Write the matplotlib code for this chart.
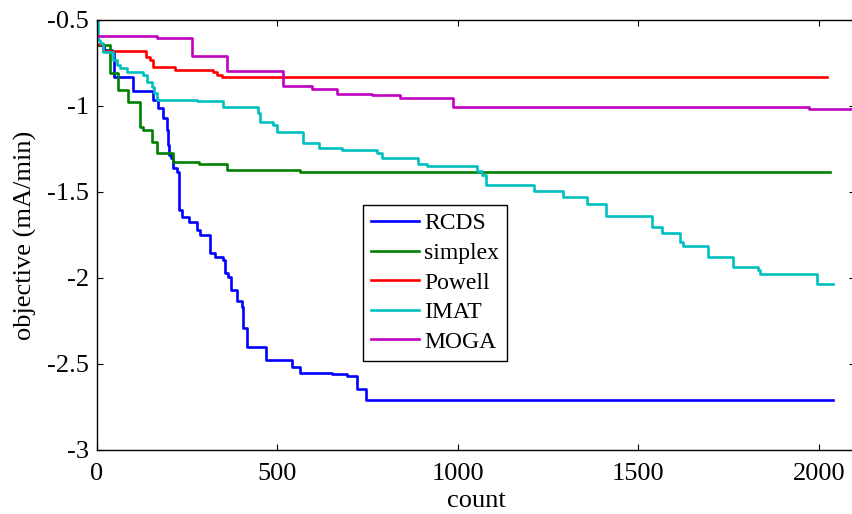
import matplotlib.pyplot as plt

# step data: count where the best objective changes, and its new value
rcds_x = [0, 19, 42, 47, 100, 155, 169, 183, 194, 197, 199, 205, 211, 222, 227, 235, 255, 277, 285,
          313, 327, 349, 355, 363, 371, 388, 402, 404, 416, 468, 540, 562, 651, 693, 720, 745, 2039]
rcds_y = [-0.645, -0.674, -0.686, -0.831, -0.913, -0.965, -1.012, -1.070, -1.140, -1.227, -1.285, -1.302,
          -1.360, -1.384, -1.605, -1.645, -1.674, -1.721, -1.750, -1.855, -1.878, -1.895, -1.971, -1.994,
          -2.070, -2.134, -2.169, -2.291, -2.401, -2.477, -2.517, -2.552, -2.558, -2.570, -2.645, -2.709, -2.709]

simplex_x = [0, 36, 58, 86, 119, 127, 152, 166, 211, 283, 360, 562, 2030]
simplex_y = [-0.645, -0.808, -0.907, -0.977, -1.122, -1.140, -1.209, -1.273, -1.326, -1.337, -1.372, -1.384, -1.384]

powell_x = [0, 17, 136, 147, 155, 216, 321, 332, 346, 2022]
powell_y = [-0.640, -0.680, -0.715, -0.733, -0.773, -0.791, -0.802, -0.820, -0.831, -0.831]

imat_x = [0, 3, 8, 17, 44, 55, 64, 83, 127, 139, 152, 158, 166, 277, 349, 446, 452, 488, 499, 571, 615,
          679, 776, 789, 889, 914, 1053, 1066, 1078, 1211, 1291, 1357, 1410, 1537, 1565, 1615, 1623, 1693,
          1762, 1831, 1837, 1994, 2039]
imat_y = [-0.5, -0.616, -0.634, -0.686, -0.733, -0.762, -0.779, -0.802, -0.820, -0.860, -0.890, -0.924,
          -0.965, -0.971, -1.006, -1.041, -1.093, -1.110, -1.151, -1.215, -1.244, -1.256, -1.273, -1.302,
          -1.337, -1.349, -1.378, -1.401, -1.459, -1.494, -1.529, -1.570, -1.640, -1.703, -1.738, -1.791,
          -1.814, -1.878, -1.936, -1.953, -1.977, -2.035, -2.035]

moga_x = [0, 166, 263, 360, 515, 596, 665, 762, 839, 986, 1972, 2120]
moga_y = [-0.593, -0.605, -0.709, -0.797, -0.884, -0.901, -0.930, -0.936, -0.953, -1.006, -1.017, -1.017]

series = [('RCDS', rcds_x, rcds_y, (0, 0, 1)),
          ('simplex', simplex_x, simplex_y, (0, 0.5, 0)),
          ('Powell', powell_x, powell_y, (1, 0, 0)),
          ('IMAT', imat_x, imat_y, (0, 0.75, 0.75)),
          ('MOGA', moga_x, moga_y, (0.75, 0, 0.75))]

xticks = [0, 500, 1000, 1500, 2000]
yticks = [-3, -2.5, -2, -1.5, -1, -0.5]
yticklabels = ['-3', '-2.5', '-2', '-1.5', '-1', '-0.5']

plt.rcParams['font.family'] = ['Liberation Serif', 'DejaVu Serif']
plt.rcParams['axes.unicode_minus'] = False

fig = plt.figure(figsize=(8.52, 5.14), dpi=100)
ax = fig.add_axes([97/852, 64/514, 758/852, 430/514])

for name, xs, ys, col in series:
	ax.step(xs, ys, where='post', color=col, lw=1.9, label=name)

ax.set_xlim(0, 2100)
ax.set_ylim(-3, -0.5)
ax.set_xticks(xticks)
ax.set_yticks(yticks)
ax.set_yticklabels(yticklabels)
ax.tick_params(direction='in', top=True, right=True, length=4, width=0.8, labelsize=19, pad=6)
ax.tick_params(axis='x', pad=9)
for s in ax.spines.values():
	s.set_linewidth(1.0)

ax.set_xlabel('count', fontsize=19, labelpad=4)
ax.set_ylabel('objective (mA/min)', fontsize=19, labelpad=7)

leg = ax.legend(loc='upper left', bbox_to_anchor=(0.351, 0.570), borderaxespad=0, fontsize=17,
                fancybox=False, framealpha=1, edgecolor='black', handlelength=2.05, handletextpad=0.2,
                labelspacing=0.34, borderpad=0.34)
leg.get_frame().set_linewidth(1.0)

fig.savefig('out.png', dpi=100)
